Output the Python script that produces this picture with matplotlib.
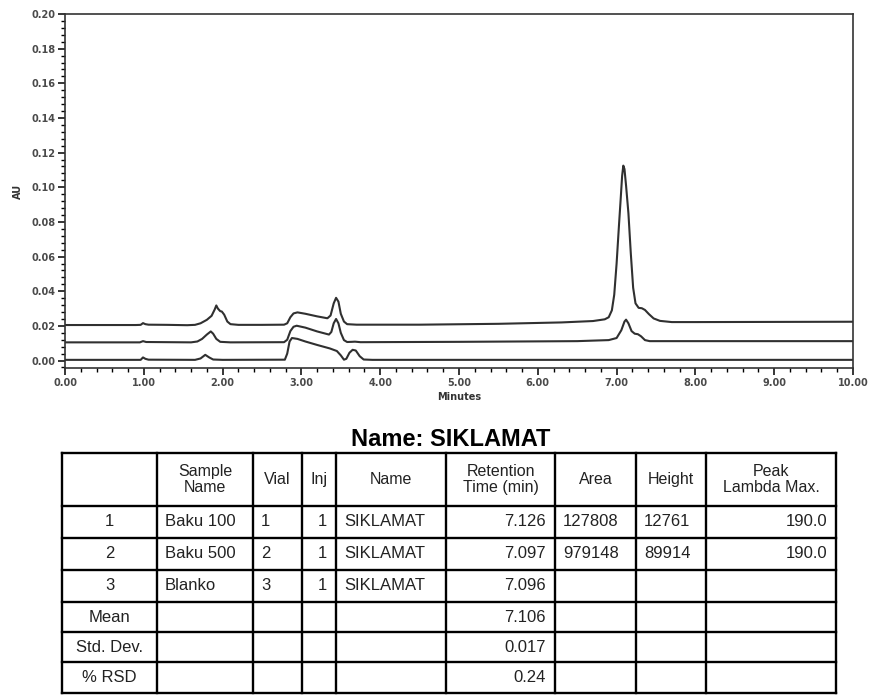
import numpy as np
import matplotlib
matplotlib.use("Agg")
import matplotlib.pyplot as plt
from matplotlib.ticker import MultipleLocator

plt.rcParams['font.family'] = ['Liberation Sans', 'DejaVu Sans']

# ---- chromatogram traces (minutes, AU) ----
top_t = [0.00, 0.90, 0.96, 0.99, 1.02, 1.06, 1.30, 1.55, 1.65, 1.72, 1.80, 1.86, 1.90, 1.92,
         1.94, 1.97, 1.99, 2.02, 2.06, 2.10, 2.20, 2.50, 2.78, 2.82, 2.86, 2.90, 2.95, 3.05,
         3.20, 3.33, 3.37, 3.41, 3.44, 3.47, 3.50, 3.54, 3.58, 3.70, 4.50, 5.50, 6.30, 6.70,
         6.85, 6.90, 6.94, 6.97, 7.00, 7.03, 7.05, 7.07, 7.085, 7.10, 7.12, 7.15, 7.18, 7.21,
         7.24, 7.28, 7.32, 7.36, 7.41, 7.47, 7.55, 7.70, 8.00, 9.00, 10.00]
top_au = [0.0205, 0.0205, 0.0206, 0.0216, 0.0210, 0.0207, 0.0206, 0.0204, 0.0206, 0.0215,
          0.0235, 0.0258, 0.0295, 0.0318, 0.0300, 0.0285, 0.0283, 0.0265, 0.0225, 0.0210,
          0.0206, 0.0206, 0.0207, 0.0215, 0.0250, 0.0272, 0.0278, 0.0270, 0.0255, 0.0244,
          0.0260, 0.0330, 0.0362, 0.0340, 0.0270, 0.0225, 0.0210, 0.0207, 0.0207, 0.0212,
          0.0220, 0.0228, 0.0238, 0.0250, 0.0290, 0.0380, 0.0560, 0.0780, 0.0920, 0.1065,
          0.1125, 0.1105, 0.1010, 0.0850, 0.0620, 0.0420, 0.0330, 0.0304, 0.0302, 0.0292,
          0.0268, 0.0243, 0.0229, 0.0222, 0.0222, 0.0223, 0.0224]

mid_t = [0.00, 0.95, 0.99, 1.03, 1.60, 1.68, 1.74, 1.80, 1.85, 1.88, 1.92, 1.97, 2.10, 2.78,
         2.82, 2.86, 2.90, 2.94, 3.05, 3.20, 3.35, 3.38, 3.41, 3.44, 3.47, 3.50, 3.54, 3.58,
         3.64, 3.68, 3.75, 5.00, 6.50, 6.90, 7.00, 7.06, 7.10, 7.12, 7.15, 7.19, 7.23, 7.27,
         7.31, 7.36, 7.42, 8.00, 10.00]
mid_au = [0.0105, 0.0105, 0.0112, 0.0107, 0.0105, 0.0110, 0.0125, 0.0150, 0.0168, 0.0155,
          0.0125, 0.0108, 0.0105, 0.0106, 0.0120, 0.0170, 0.0195, 0.0201, 0.0190, 0.0168,
          0.0150, 0.0165, 0.0215, 0.0240, 0.0215, 0.0160, 0.0118, 0.0107, 0.0108, 0.0109,
          0.0106, 0.0108, 0.0112, 0.0118, 0.0130, 0.0175, 0.0225, 0.0236, 0.0215, 0.0170,
          0.0155, 0.0152, 0.0140, 0.0118, 0.0112, 0.0112, 0.0112]

low_t = [0.00, 0.96, 0.99, 1.02, 1.06, 1.65, 1.72, 1.78, 1.83, 1.88, 2.00, 2.79, 2.82, 2.85,
         2.88, 2.95, 3.05, 3.20, 3.36, 3.45, 3.50, 3.54, 3.57, 3.61, 3.65, 3.69, 3.74, 3.79,
         3.90, 10.00]
low_au = [0.0004, 0.0004, 0.0018, 0.0010, 0.0005, 0.0004, 0.0012, 0.0033, 0.0018, 0.0006,
          0.0004, 0.0005, 0.0040, 0.0110, 0.0130, 0.0125, 0.0110, 0.0090, 0.0070, 0.0055,
          0.0030, 0.0005, 0.0010, 0.0045, 0.0062, 0.0058, 0.0025, 0.0006, 0.0004, 0.0004]

# ---- results table ----
title = "Name: SIKLAMAT"
headers = ["", "Sample\nName", "Vial", "Inj", "Name", "Retention\nTime (min)", "Area",
           "Height", "Peak\nLambda Max."]
row_labels = ["1", "2", "3", "Mean", "Std. Dev.", "% RSD"]
sample_names = ["Baku 100", "Baku 500", "Blanko", "", "", ""]
vials = ["1", "2", "3", "", "", ""]
injs = ["1", "1", "1", "", "", ""]
names = ["SIKLAMAT", "SIKLAMAT", "SIKLAMAT", "", "", ""]
ret_times = ["7.126", "7.097", "7.096", "7.106", "0.017", "0.24"]
areas = ["127808", "979148", "", "", "", ""]
heights = ["12761", "89914", "", "", "", ""]
lambdas = ["190.0", "190.0", "", "", "", ""]

W, H = 872, 695
fig = plt.figure(figsize=(W / 100, H / 100), dpi=100)

ax = fig.add_axes([65 / W, 1 - 368 / H, (853 - 65) / W, (368 - 14) / H])
for t, v in [(low_t, low_au), (mid_t, mid_au), (top_t, top_au)]:
    ax.plot(t, v, color='#303030', lw=1.5)

ax.set_xlim(0, 10)
ax.set_ylim(-0.0043, 0.2)
ax.set_xticks(np.arange(0, 10.01, 1))
ax.set_yticks(np.arange(0, 0.201, 0.02))
ax.xaxis.set_minor_locator(MultipleLocator(0.2))
ax.yaxis.set_minor_locator(MultipleLocator(0.004))
ax.xaxis.set_major_formatter(plt.FormatStrFormatter('%.2f'))
ax.yaxis.set_major_formatter(plt.FormatStrFormatter('%.2f'))
ax.tick_params(which='major', direction='out', length=5, width=1.1, labelsize=7,
               labelcolor='#4a4a4a', pad=2)
ax.tick_params(which='minor', direction='out', length=3, width=1.0)
for lbl in ax.get_xticklabels() + ax.get_yticklabels():
    lbl.set_family('DejaVu Sans')
    lbl.set_fontweight('bold')
for s in ax.spines.values():
    s.set_linewidth(1.2)
    s.set_color('#333333')
ax.set_xlabel("Minutes", fontsize=7, labelpad=3, family='DejaVu Sans',
              fontweight='bold', color='#333333')
ax.set_ylabel("AU", fontsize=7, labelpad=6, family='DejaVu Sans',
              fontweight='bold', color='#333333')

# table drawn in pixel coordinates
tab = fig.add_axes([0, 0, 1, 1])
tab.set_xlim(0, W)
tab.set_ylim(H, 0)
tab.axis('off')

cols = [62, 157, 253, 302, 336, 446, 555, 636, 706, 836]
rows = [453, 506, 538, 570, 602, 632, 662, 693]
for x in cols:
    tab.plot([x, x], [rows[0], rows[-1]], color='black', lw=1.7)
for y in rows:
    tab.plot([cols[0], cols[-1]], [y, y], color='black', lw=1.7)

tab.text(451, 440, title, fontsize=17, fontweight='bold', ha='center', va='center')

for i, h in enumerate(headers):
    tab.text((cols[i] + cols[i + 1]) / 2, (rows[0] + rows[1]) / 2, h, fontsize=11.5,
             ha='center', va='center', linespacing=1.1, color='#222222')

columns = [row_labels, sample_names, vials, injs, names, ret_times, areas, heights, lambdas]
aligns = ['center', 'left', 'left', 'right', 'left', 'right', 'left', 'left', 'right']
for j, (vals, al) in enumerate(zip(columns, aligns)):
    for r, val in enumerate(vals):
        yc = (rows[r + 1] + rows[r + 2]) / 2
        if al == 'center':
            xc = (cols[j] + cols[j + 1]) / 2
        elif al == 'left':
            xc = cols[j] + 8
        else:
            xc = cols[j + 1] - 9
        tab.text(xc, yc, val, fontsize=12, ha=al, va='center', color='#222222')

fig.savefig("out.png", dpi=100)
